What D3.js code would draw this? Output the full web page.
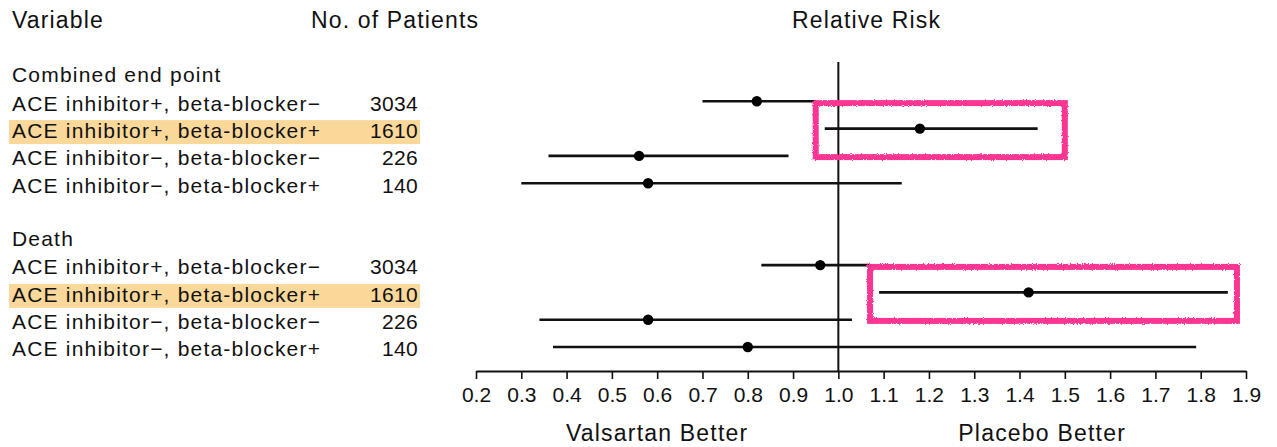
<!DOCTYPE html>
<html>
<head>
<meta charset="utf-8">
<script src="https://cdn.jsdelivr.net/npm/d3@7"></script>
<style>
  html, body { margin: 0; padding: 0; background: #fff; }
  svg text { font-family: "Liberation Sans", Arial, sans-serif; fill: #111; }
</style>
</head>
<body>
<svg id="chart" width="1277" height="447"></svg>
<script>
// Forest plot: relative risk by ACE inhibitor / beta-blocker subgroup

const groups = ['Combined end point', 'Death'];
const subgroups = [
    'ACE inhibitor+, beta-blocker\u2212',
    'ACE inhibitor+, beta-blocker+',
    'ACE inhibitor\u2212, beta-blocker\u2212',
    'ACE inhibitor\u2212, beta-blocker+'
];
const patients = [3034, 1610, 226, 140];

// point estimate, lower and upper bound per subgroup
const combinedRR = [0.82, 1.18, 0.56, 0.58];
const combinedLo = [0.70, 0.97, 0.36, 0.30];
const combinedHi = [0.95, 1.44, 0.89, 1.14];

const deathRR = [0.96, 1.42, 0.58, 0.80];
const deathLo = [0.83, 1.09, 0.34, 0.37];
const deathHi = [1.07, 1.86, 1.03, 1.79];

const tickValues = [0.2, 0.3, 0.4, 0.5, 0.6, 0.7, 0.8, 0.9, 1.0, 1.1, 1.2, 1.3, 1.4, 1.5, 1.6, 1.7, 1.8, 1.9];

const highlightRow = 1;            // subgroup index that is highlighted
const boxLo = [0.95, 1.07];        // pink box extent per group (RR units)
const boxHi = [1.50, 1.88];

const svg = d3.select('#chart');

const x = d3.scaleLinear().domain([0.2, 1.9]).range([476, 1246]);
// row slots: group title, 4 rows, spacer, group title, 4 rows
const y = d3.scaleLinear().domain([0, 10]).range([74, 347]);

const rows = [];
groups.forEach((g, gi) => {
    const base = gi * 6;
    rows.push({ type: 'title', label: g, slot: base });
    subgroups.forEach((s, si) => {
        rows.push({
            type: 'row', group: gi, idx: si, label: s, slot: base + 1 + si,
            n: patients[si],
            rr: gi === 0 ? combinedRR[si] : deathRR[si],
            lo: gi === 0 ? combinedLo[si] : deathLo[si],
            hi: gi === 0 ? combinedHi[si] : deathHi[si]
        });
    });
});
const dataRows = rows.filter(d => d.type === 'row');

// chalky filter for the pink boxes
const defs = svg.append('defs');
const filt = defs.append('filter').attr('id', 'chalk')
    .attr('x', '-5%').attr('y', '-20%').attr('width', '110%').attr('height', '140%');
filt.append('feTurbulence').attr('type', 'fractalNoise')
    .attr('baseFrequency', 0.9).attr('numOctaves', 2).attr('result', 'noise');
filt.append('feDisplacementMap').attr('in', 'SourceGraphic').attr('in2', 'noise')
    .attr('scale', 3).attr('xChannelSelector', 'R').attr('yChannelSelector', 'G');

// highlight bands
svg.append('g')
    .selectAll('rect')
    .data(dataRows.filter(d => d.idx === highlightRow))
    .enter().append('rect')
    .attr('x', 9)
    .attr('y', d => y(d.slot) - 8.5)
    .attr('width', 411)
    .attr('height', 24)
    .attr('fill', '#F9D89A');

// headers
const headers = svg.append('g').attr('font-size', 23).attr('letter-spacing', 1.15);
headers.append('text').attr('x', 12).attr('y', 28).text('Variable');
headers.append('text').attr('x', 311).attr('y', 28).text('No. of Patients');
headers.append('text').attr('x', 792).attr('y', 28).text('Relative Risk');

// left-hand labels
const labels = svg.append('g').attr('font-size', 21);
labels.selectAll('text.lab')
    .data(rows)
    .enter().append('text')
    .attr('class', 'lab')
    .attr('x', 12)
    .attr('y', d => y(d.slot) + (d.type === 'title' ? 8 : 9.3))
    .attr('letter-spacing', 1.2)
    .text(d => d.label);

labels.selectAll('text.num')
    .data(dataRows)
    .enter().append('text')
    .attr('class', 'num')
    .attr('x', 418)
    .attr('y', d => y(d.slot) + 9.3)
    .attr('text-anchor', 'end')
    .attr('letter-spacing', 0.3)
    .text(d => d.n);

// reference line at RR = 1
svg.append('line')
    .attr('x1', x(1)).attr('x2', x(1))
    .attr('y1', 62).attr('y2', 371)
    .attr('stroke', '#111').attr('stroke-width', 2);

// confidence intervals
svg.append('g')
    .selectAll('line')
    .data(dataRows)
    .enter().append('line')
    .attr('x1', d => x(d.lo))
    .attr('x2', d => x(d.hi))
    .attr('y1', d => y(d.slot))
    .attr('y2', d => y(d.slot))
    .attr('stroke', '#111')
    .attr('stroke-width', 2.6);

// point estimates
svg.append('g')
    .selectAll('circle')
    .data(dataRows)
    .enter().append('circle')
    .attr('cx', d => x(d.rr))
    .attr('cy', d => y(d.slot))
    .attr('r', 5.2)
    .attr('fill', '#000');

// pink boxes around the highlighted subgroup
svg.append('g')
    .selectAll('rect')
    .data(groups.map((g, gi) => ({ slot: gi * 6 + 1 + highlightRow, lo: boxLo[gi], hi: boxHi[gi] })))
    .enter().append('rect')
    .attr('x', d => x(d.lo))
    .attr('y', d => y(d.slot) - 25.5)
    .attr('width', d => x(d.hi) - x(d.lo))
    .attr('height', 54)
    .attr('fill', 'none')
    .attr('stroke', '#FB3592')
    .attr('stroke-width', 6)
    .attr('filter', 'url(#chalk)');

// axis
const axis = d3.axisBottom(x)
    .tickValues(tickValues)
    .tickFormat(d3.format('.1f'))
    .tickSize(8)
    .tickSizeOuter(0)
    .tickPadding(8);

const axisG = svg.append('g')
    .attr('transform', 'translate(0,371)')
    .call(axis);
axisG.select('.domain').attr('stroke', '#111').attr('stroke-width', 2);
axisG.selectAll('.tick line').attr('stroke', '#111').attr('stroke-width', 1.6);
axisG.selectAll('.tick text')
    .attr('font-size', 21)
    .attr('font-family', '"Liberation Sans", Arial, sans-serif')
    .attr('fill', '#111');

// direction labels
const dir = svg.append('g').attr('font-size', 23).attr('letter-spacing', 1.2).attr('text-anchor', 'middle');
dir.append('text').attr('x', x(0.6)).attr('y', 441).text('Valsartan Better');
dir.append('text').attr('x', x(1.45)).attr('y', 441).text('Placebo Better');
</script>
</body>
</html>
